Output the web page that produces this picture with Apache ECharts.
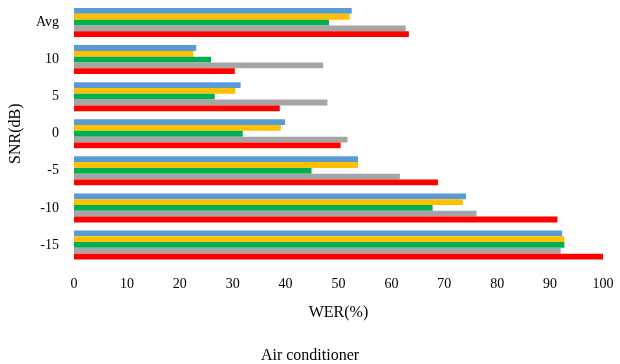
<!DOCTYPE html>
<html>
<head>
<meta charset="utf-8">
<script src="https://cdn.jsdelivr.net/npm/echarts@6/dist/echarts.min.js"></script>
<style>html,body{margin:0;padding:0;background:#fff}#c{width:620px;height:364px}</style>
</head>
<body>
<div id="c"></div>
<script>
const categories = ['-15', '-10', '-5', '0', '5', '10', 'Avg'];
const xTicks = [0, 10, 20, 30, 40, 50, 60, 70, 80, 90, 100];
const redValues = [100.0, 91.4, 68.8, 50.4, 38.9, 30.4, 63.3];
const grayValues = [92.0, 76.1, 61.6, 51.7, 47.9, 47.1, 62.7];
const greenValues = [92.7, 67.8, 44.9, 31.9, 26.6, 25.9, 48.2];
const yellowValues = [92.7, 73.5, 53.7, 39.1, 30.5, 22.6, 52.1];
const blueValues = [92.3, 74.1, 53.7, 39.9, 31.5, 23.1, 52.5];

// first series is drawn at the top of each band
const seriesDefs = [
  {name: 'S5', data: blueValues, color: '#5B9BD5'},
  {name: 'S4', data: yellowValues, color: '#FFC000'},
  {name: 'S3', data: greenValues, color: '#00B050'},
  {name: 'S2', data: grayValues, color: '#A5A5A5'},
  {name: 'S1', data: redValues, color: '#FF0000'}
];

const serif = '"Liberation Serif", "DejaVu Serif", serif';
const chart = echarts.init(document.getElementById('c'));
chart.setOption({
  animation: false,
  backgroundColor: '#fff',
  grid: {left: 70, right: 17, top: 4, bottom: 100.5, containLabel: false},
  title: {
    text: 'Air conditioner', left: 'center', top: 343,
    textStyle: {fontFamily: serif, fontSize: 16, fontWeight: 'normal', color: '#000'}
  },
  xAxis: {
    type: 'value', min: 0, max: 100, interval: 10,
    name: 'WER(%)', nameLocation: 'middle', nameGap: 41,
    nameTextStyle: {fontFamily: serif, fontSize: 16, color: '#000'},
    axisLine: {show: false}, axisTick: {show: false}, splitLine: {show: false},
    axisLabel: {fontFamily: serif, fontSize: 14, color: '#000', margin: 14,
      formatter: v => xTicks.includes(v) ? String(v) : ''}
  },
  yAxis: {
    type: 'category', data: categories,
    name: 'SNR(dB)', nameLocation: 'middle', nameGap: 50, nameRotate: 90,
    nameTextStyle: {fontFamily: serif, fontSize: 16, color: '#000'},
    axisLine: {show: false}, axisTick: {show: false}, splitLine: {show: false},
    axisLabel: {fontFamily: serif, fontSize: 14, color: '#000', margin: 15}
  },
  series: seriesDefs.map(s => ({
    name: s.name, type: 'bar', data: s.data,
    barWidth: 5.8, barGap: '0%',
    itemStyle: {color: s.color}
  }))
});
</script>
</body>
</html>
